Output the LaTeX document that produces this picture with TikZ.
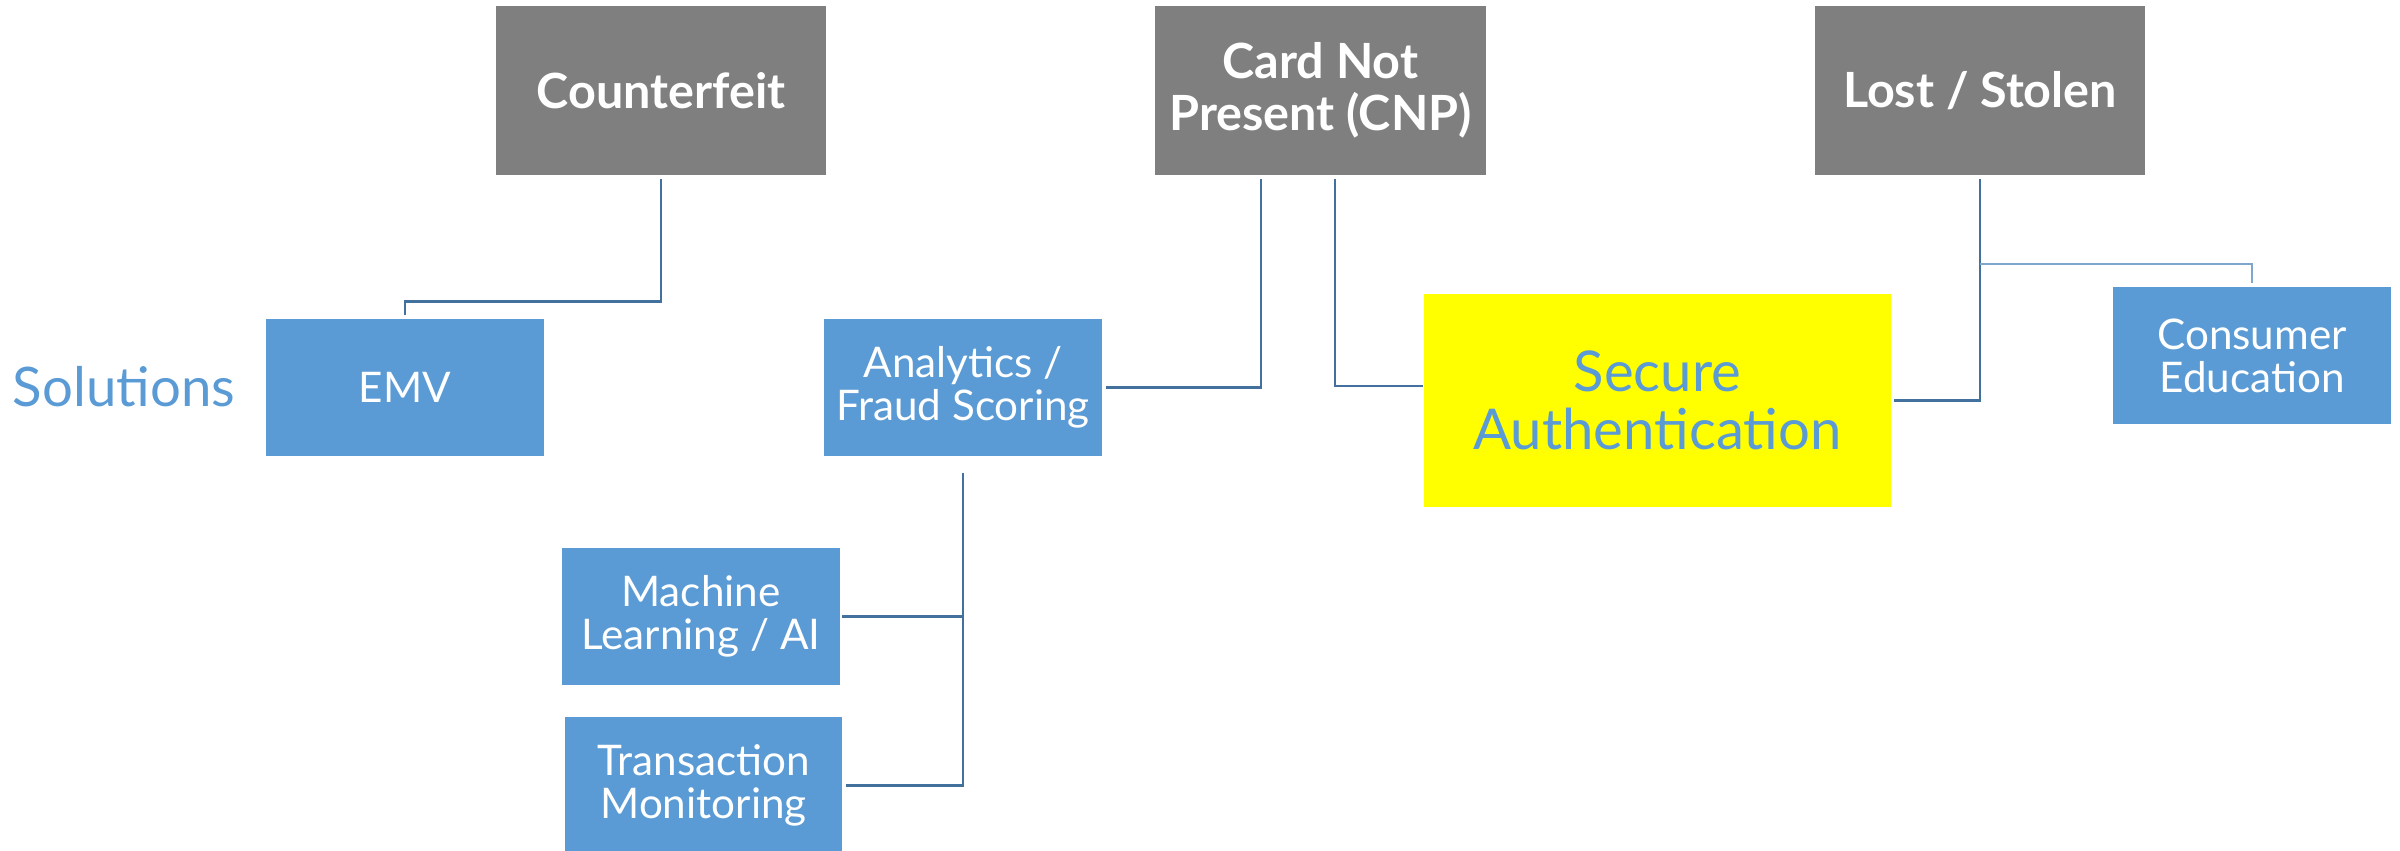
\documentclass[tikz,border=0pt]{standalone}
\usepackage{fontspec}
\setmainfont{Lato}
\usetikzlibrary{calc}
\definecolor{hdrgray}{HTML}{7F7F7F}
\definecolor{solblue}{HTML}{5B9BD5}
\definecolor{lineblue}{HTML}{41719C}
\definecolor{thinblue}{HTML}{7FA6CC}
\definecolor{hiyellow}{HTML}{FFFF00}
\tikzset{
  hdrbox/.style={fill=hdrgray, text=white, minimum width=3.3cm, minimum height=1.69cm,
    align=center, inner sep=0pt, font=\fontsize{13.8}{14.8}\selectfont\bfseries},
  solbox/.style={fill=solblue, text=white, minimum width=2.77cm, minimum height=1.37cm,
    align=center, inner sep=0pt, font=\fontsize{12}{12.2}\selectfont},
  keybox/.style={fill=hiyellow, text=solblue, minimum width=4.67cm, minimum height=2.13cm,
    align=center, inner sep=0pt, font=\fontsize{16}{16.5}\selectfont},
  conn/.style={draw=lineblue, line width=0.7pt},
  thinconn/.style={draw=thinblue, line width=0.45pt},
}
\begin{document}
\begin{tikzpicture}[x=0.01cm, y=-0.01cm]
\useasboundingbox (0,0) rectangle (2400,850);
\clip (0,0) rectangle (2400,850);
% header boxes
\node[hdrbox] (cf)  at (661,90.5)   {Counterfeit};
\node[hdrbox] (cnp) at (1320.5,90.5) {Card Not\\Present (CNP)};
\node[hdrbox] (ls)  at (1980,90.5)  {Lost / Stolen};
% label
\node[text=solblue, font=\fontsize{15.5}{16}\selectfont, inner sep=0pt] (sol) at (124,387) {Solutions};
% solution boxes
\node[solbox] (emv) at (405,387.5) {EMV};
\node[solbox] (an)  at (963,387.5) {Analytics /\\Fraud Scoring};
\node[keybox] (sa)  at (1657.5,400.5) {Secure\\Authentication};
\node[solbox] (ce)  at (2252,355.5) {Consumer\\Education};
\node[solbox] (ml)  at (701,616.5) {Machine\\Learning / AI};
\node[solbox] (tm)  at (703.5,785.5) {Transaction\\Monitoring};
% connectors
\draw[conn] ([yshift=-0.03cm]cf.south) |- ([yshift=0.17cm]emv.north) -- ([yshift=0.03cm]emv.north);
\draw[conn] ([xshift=-0.595cm,yshift=-0.03cm]cnp.south) |- ([xshift=0.04cm]an.east);
\draw[conn] ([xshift=0.145cm,yshift=-0.03cm]cnp.south) |- ([yshift=0.145cm]sa.west);
\draw[conn] ([yshift=-0.03cm]ls.south) |- ([xshift=0.02cm]sa.east);
\coordinate (br) at ([yshift=-0.88cm]ls.south);
\draw[thinconn] (br) -| ([yshift=0.03cm]ce.north);
\draw[conn] ([yshift=-0.16cm]an.south) |- ([xshift=0.03cm]tm.east);
\draw[conn] ([xshift=0.02cm]ml.east) -- (ml.east -| an.south);
\end{tikzpicture}
\end{document}
